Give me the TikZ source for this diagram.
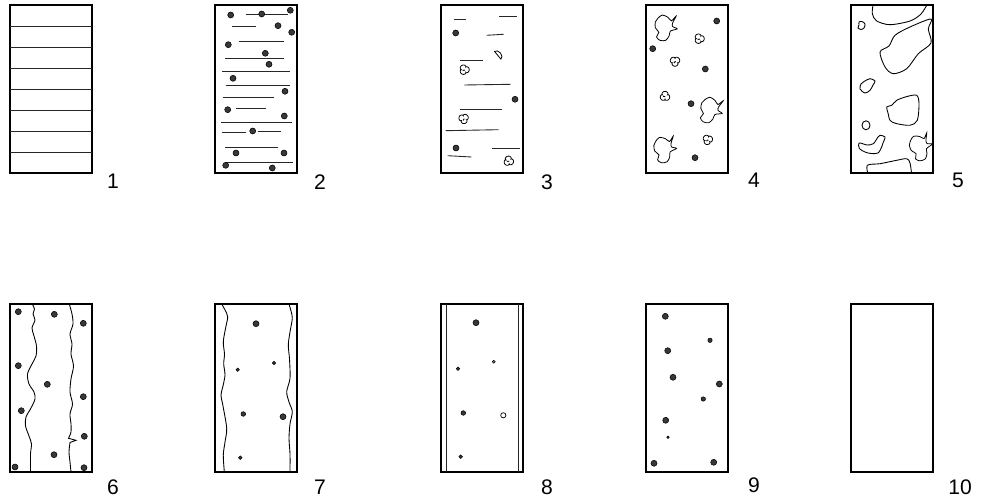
\documentclass[tikz,border=0pt]{standalone}
\usepackage{fontspec}
\setmainfont{Liberation Sans}
\definecolor{grainfill}{gray}{0.22}

\newcommand{\grain}[3]{\filldraw[fill=grainfill, draw=black, line width=0.3pt] (#1,#2) circle (#3);}
\newcommand{\puff}[3][0]{\draw[line width=0.45pt, shift={(#2,#3)}, rotate=#1]
  plot[domain=0:355, samples=72, variable=\ang]
  ({(2.9+2*sqrt(abs(cos(1.5*\ang))))*cos(\ang)}, {(2.9+2*sqrt(abs(cos(1.5*\ang))))*sin(\ang)}) -- cycle
  (-1.6,1) arc (200:330:1.2);}
\newcommand{\spiky}[3][0]{\draw[line width=0.45pt, shift={(#2,#3)}, rotate=#1, scale=1.15]
  plot[smooth cycle, tension=0.5] coordinates {(-7,-8) (-3,-11) (2,-9) (5,-6) (9,-10) (6,-4) (6,-1) (10,1) (4,3) (3,7) (0,11) (-5,11) (-8,8) (-6,4) (-9,0) (-9,-5)};}

\begin{document}
\begin{tikzpicture}[x=0.02cm, y=-0.02cm,
    panel/.style={draw, line width=0.6pt},
    strand/.style={line width=0.5pt, black!85},
    wave/.style={line width=0.5pt},
    numlabel/.style={font=\fontsize{12}{14}\selectfont, anchor=center}
  ]
  \useasboundingbox (0,0) rectangle (989,502);

  \begin{scope}[shift={(10,5)}]
    \draw[panel] (0,0) rectangle (82,168);
    \foreach \k in {1,...,7} \draw[strand] (0,21*\k) -- (82,21*\k);
  \end{scope}
  \node[numlabel] (lab1) at (113,181) {1};

  \begin{scope}[shift={(215,5)}]
    \draw[panel] (0,0) rectangle (82,168);
    \foreach \xa/\xb/\yy in {30.7/72.7/9.7, 16.7/40.7/21, 24.3/68.7/36, 10/69/53.7, 7.3/75.3/66.3,
        10.7/75.3/80.3, 8.3/59/92.3, 21/51/103.7, 6/77.3/117, 6.7/30.7/127, 42.7/66/126.3,
        10/63.3/142, 10.7/78.3/157}
      \draw[strand] (\xa,\yy) -- (\xb,\yy);
    \foreach \px/\py in {15.7/10, 46.7/9, 75.3/5.3, 63/20.7, 76.7/27.3, 13.3/39.7, 50.3/48.3, 54/59.3,
        18/73.3, 70/86.3, 12.7/104.7, 69.3/111, 37.7/126, 21/148, 69/148, 10.7/160.3, 57.3/163}
      {\grain{\px}{\py}{3}}
  \end{scope}
  \node[numlabel] (lab2) at (320,182) {2};

  \begin{scope}[shift={(441,5)}]
    \draw[panel] (0,0) rectangle (82,168);
    \foreach \xa/\ya/\xb/\yb in {13/14/25/14, 58/11/76/11, 45.7/30.3/62.7/29.3, 19/55.7/41.7/55.7,
        23.3/80/69.7/79.3, 19/104.3/60.7/104.3, 4.7/125.7/57.7/124.7, 6.7/150.7/30.3/152, 51.3/143.3/79/143.3}
      \draw[strand] (\xa,\ya) -- (\xb,\yb);
    \foreach \px/\py in {14.7/28, 74/94.3, 15/143} {\grain{\px}{\py}{3}}
    \puff{23.3}{64.7}
    \puff[40]{22.7}{113.7}
    \puff[-20]{67.7}{156}
    \draw[line width=0.45pt, shift={(56.7,50.3)}, rotate=-50] (-5,0) arc (180:360:5 and 3.6) -- cycle;
  \end{scope}
  \node[numlabel] (lab3) at (547,182) {3};

  \begin{scope}[shift={(646,5)}]
    \draw[panel] (0,0) rectangle (82,168);
    \foreach \px/\py in {70.7/16, 6.7/43.7, 59.3/64, 45/98.7, 49/152.7} {\grain{\px}{\py}{3}}
    \puff{53.3}{33.7}
    \puff[30]{29}{56.3}
    \puff[-30]{19}{91.3}
    \puff[15]{61.7}{134.7}
    \spiky{19.7}{22.7}
    \spiky[-10]{65}{105.3}
    \spiky[10]{19}{144.3}
  \end{scope}
  \node[numlabel] (lab4) at (754,180) {4};

  \begin{scope}[shift={(851,5)}]
    \begin{scope}
      \clip (0,0) rectangle (82,168);
      \draw[wave] plot[smooth] coordinates {(22.3,-2) (21.3,8.7) (25.7,16) (39,19.7) (59,16) (70,9) (77,-2)};
      \draw[wave] plot[smooth cycle] coordinates {(8,17) (11,16.5) (14,19) (13,23) (10,24.5) (7,23) (8,20)};
      \draw[wave] plot[smooth cycle] coordinates {(80,14) (77.3,24) (80,38) (67.3,48.7) (55.7,63.7) (42.3,68.7)
          (34,62) (29,47) (38,41) (44,30.3) (59,22)};
      \draw[wave] plot[smooth cycle] coordinates {(19,73.7) (24,76) (22,80) (19,85.3) (14,88) (9,84) (10,79) (13,76.5)};
      \draw[wave] plot[smooth cycle] coordinates {(45.7,95.3) (56,91.5) (65.7,90.3) (68,98.7) (66.3,115.3)
          (59,120.3) (45,118.5) (39,115.3) (37,108) (35.7,102) (40.7,100.3)};
      \draw[wave] (15,120.3) ellipse (4 and 4.5);
      \draw[wave] plot[smooth cycle] coordinates {(8.3,138) (16,140) (22.3,138.7) (27,132) (29,130.3) (34,132)
          (32,138) (30.7,142) (27,148) (20,148.5) (14,147) (8.3,143.5)};
      \spiky[20]{70}{142}
      \draw[wave] plot[smooth] coordinates {(17.3,170) (16.3,160.3) (29,158.7) (45.7,155.3) (55.7,153.7) (59,158) (60.7,170)};
    \end{scope}
    \draw[panel] (0,0) rectangle (82,168);
  \end{scope}
  \node[numlabel] (lab5) at (958,180) {5};

  \begin{scope}[shift={(10,304)}]
    \draw[panel] (0,0) rectangle (82,168);
    \draw[wave] plot[smooth] coordinates {(22.3,0) (24.5,5) (23,10) (25,16) (22,24) (24,32) (26.5,42) (26,52)
        (22,60) (17.5,70) (19,80) (24,88) (25,95) (21,104) (16,113) (15.5,122) (19,132) (21.5,140) (20.5,150) (20.5,168)};
    \draw[wave] plot[smooth] coordinates {(59.3,0) (62,10) (63,20) (60,30) (62,40) (61,50) (63.5,62) (61,75)
        (60,88) (62.5,100) (60,110) (61,120) (61,128) (58.5,134.3)}
      -- (66,136.3) -- (60,138.5)
      plot[smooth] coordinates {(60,138.5) (59,148) (60,158) (61,168)};
    \foreach \px/\py in {8.3/7.7, 44.3/10.3, 73.3/19.3, 8.3/61.7, 37.3/80.3, 73.3/92.7, 11.3/106.7,
        74.3/132.3, 44/150.7, 5/163, 74/163.7}
      {\grain{\px}{\py}{3}}
  \end{scope}
  \node[numlabel] (lab6) at (113,487) {6};

  \begin{scope}[shift={(215,304)}]
    \draw[panel] (0,0) rectangle (82,168);
    \draw[wave] plot[smooth] coordinates {(6.7,0) (10,6) (12.7,12.7) (11,22) (8.3,37.7) (9.5,50) (8.7,60)
        (10,71) (8,82) (6,91) (8,102) (11.7,124.3) (10,138) (8.3,151) (9.3,167.7)};
    \draw[wave] plot[smooth] coordinates {(74,0) (76,7) (77.3,14.3) (75,28) (73.3,41) (74.5,55) (75,74.3)
        (71.7,87.7) (74,98) (77.3,107.7) (75,120) (74,134.3) (75,150) (75,167.7)};
    \grain{41}{19.7}{3}
    \grain{59}{59}{1.7}
    \grain{22.7}{65.7}{1.7}
    \grain{28.3}{110}{2.3}
    \grain{68}{112.7}{3}
    \grain{25.3}{153.7}{1.8}
  \end{scope}
  \node[numlabel] (lab7) at (320,487) {7};

  \begin{scope}[shift={(441,304)}]
    \draw[panel] (0,0) rectangle (82,168);
    \draw[strand] (5,0) -- (5,168);
    \draw[strand] (77,0) -- (77,168);
    \grain{35}{18.7}{3}
    \filldraw[fill=gray, draw=black, line width=0.3pt] (52.7,57.7) circle (1.5);
    \grain{17}{64.7}{1.7}
    \grain{22.3}{109}{2.3}
    \filldraw[fill=white, draw=black, line width=0.4pt] (62.3,111.3) circle (2.6);
    \grain{19.7}{152.7}{1.8}
  \end{scope}
  \node[numlabel] (lab8) at (547,487) {8};

  \begin{scope}[shift={(646,304)}]
    \draw[panel] (0,0) rectangle (82,168);
    \foreach \px/\py/\pr in {19.3/12.3/3, 64/36.3/2.2, 21.7/46.7/3, 27/73.3/3, 73.3/80/3, 57.3/95/2.2,
        19.7/116.3/3, 22/133.3/1.3, 8/159.3/3, 67.7/158.3/3}
      {\grain{\px}{\py}{\pr}}
  \end{scope}
  \node[numlabel] (lab9) at (754,485) {9};

  \begin{scope}[shift={(851,304)}]
    \draw[panel] (0,0) rectangle (82,168);
  \end{scope}
  \node[numlabel] (lab10) at (960,487) {10};
\end{tikzpicture}
\end{document}
